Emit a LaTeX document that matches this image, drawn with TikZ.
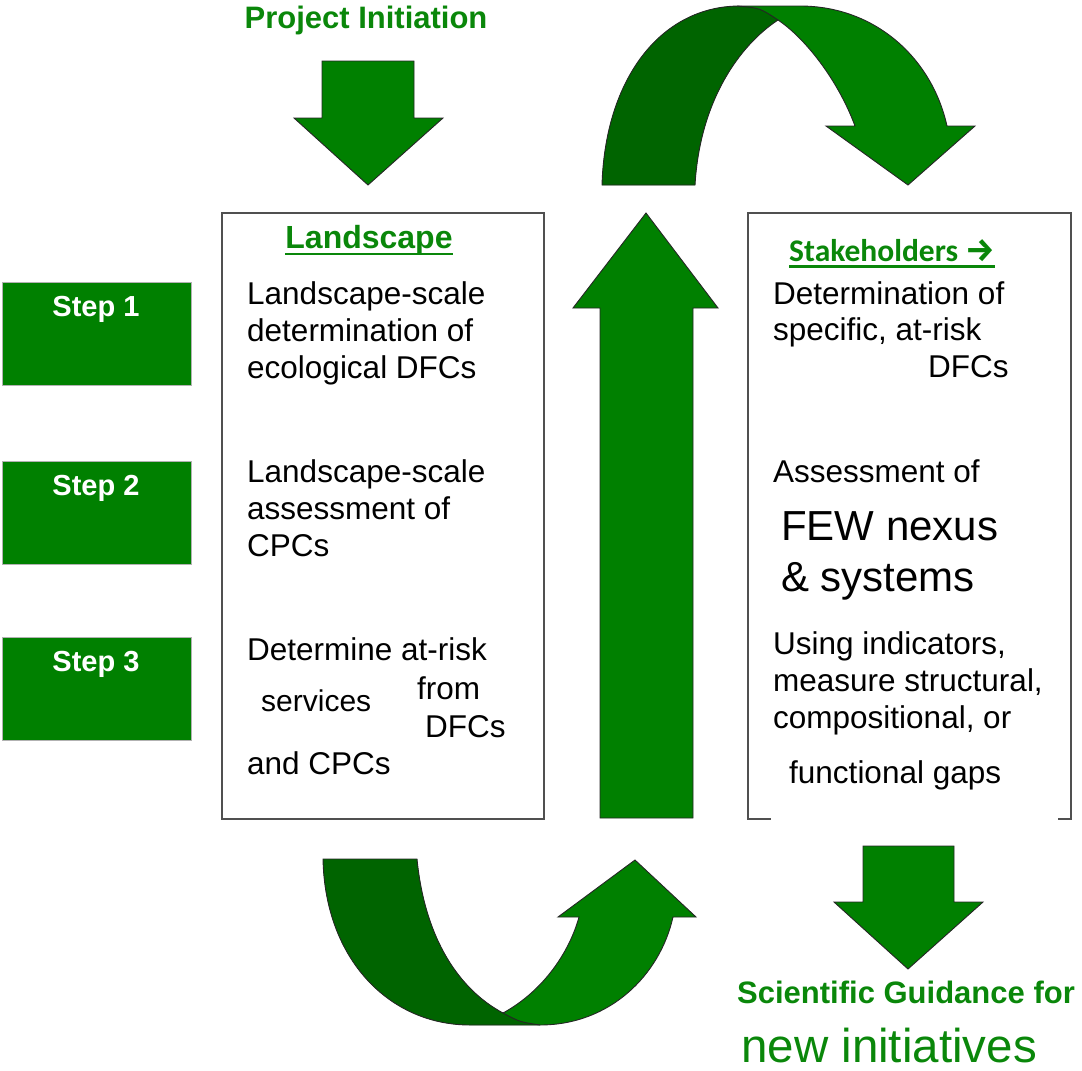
\documentclass[tikz,border=0pt]{standalone}
\usepackage{fontspec}
\setmainfont{Liberation Sans}
\newfontfamily\carlito{Carlito}
\newfontfamily\firab{Fira Sans}
\usetikzlibrary{calc}
\definecolor{gfill}{HTML}{008000}
\definecolor{gdark}{HTML}{006400}
\definecolor{gtext}{HTML}{0A870A}
\definecolor{edgec}{HTML}{505050}
\begin{document}
\begin{tikzpicture}[x=1pt,y=-1pt,
  body/.style={font=\fontsize{31.5}{37}\selectfont, inner sep=0pt, anchor=base west, text=black},
  bigbody/.style={font=\fontsize{42}{48}\selectfont, inner sep=0pt, anchor=base west, text=black},
  textbox/.style={draw=edgec, line width=1.5pt, fill=white, anchor=north west, inner sep=0pt},
  stepbox/.style={fill=gfill, draw=gray!60, line width=0.8pt, anchor=north west, inner sep=0pt, minimum width=189, minimum height=103},
  steplbl/.style={font=\fontsize{29}{32}\selectfont\bfseries, text=white, inner sep=0pt, anchor=base},
  greenhead/.style={font=\fontsize{31}{36}\selectfont\bfseries, text=gtext, inner sep=0pt},
  outline/.style={draw=black!85, line width=0.9pt, line join=miter},
  blockarrow/.style={fill=gfill, outline}
]
\useasboundingbox (0,0) rectangle (1082,1071);

% ---- ribbon paths
\def\toprib{(602,185) .. controls (605,80) and (660,6) .. (740,6) -- (800,6) .. controls (875,6) and (932,58) .. (947,126) -- (975,126) -- (908,185) -- (826,126) -- (855,126) .. controls (838,80) and (805,38) .. (778,20) .. controls (740,45) and (700,100) .. (695,185) -- cycle}
\def\botrib{(323,859) .. controls (325,960) and (390,1025) .. (470,1025) -- (540,1025) .. controls (610,1025) and (660,975) .. (673,917) -- (696,917) -- (635,860) -- (558,917) -- (579,917) .. controls (570,950) and (545,990) .. (503,1013) .. controls (460,990) and (425,940) .. (417,859) -- cycle}

% top curved arrow
\fill[gfill] \toprib;
\begin{scope}
  \clip (580,200) -- (580,-5) -- (737,-5) -- (737,6) .. controls (760,8) .. (778,20) -- (778,200) -- cycle;
  \fill[gdark] \toprib;
\end{scope}
\draw[outline] \toprib;
\draw[outline] (737,6) .. controls (760,8) .. (778,20);

% bottom curved arrow
\fill[gfill] \botrib;
\begin{scope}
  \clip (310,850) -- (310,1040) -- (540,1040) -- (540,1025) .. controls (520,1022) .. (503,1013) -- (503,850) -- cycle;
  \fill[gdark] \botrib;
\end{scope}
\draw[outline] \botrib;
\draw[outline] (503,1013) .. controls (520,1022) .. (540,1025);

% straight block arrows
\draw[blockarrow] (322,61) -- (414,61) -- (414,118) -- (443,118) -- (368,185) -- (294,118) -- (322,118) -- cycle;
\draw[blockarrow] (863,846) -- (954,846) -- (954,902) -- (983,902) -- (908,969) -- (834,902) -- (863,902) -- cycle;
\draw[blockarrow] (600,818) -- (600,308) -- (573,308) -- (646,213) -- (718,308) -- (693,308) -- (693,818) -- cycle;

% boxes
\node[textbox, minimum width=322, minimum height=606] (lbox) at (221,212) {};
\node[textbox, minimum width=323, minimum height=606] (rbox) at (747,212) {};
\fill[white] (771,814) rectangle (1058,822);

% step boxes
\node[stepbox] (s1) at (2,282) {};
\node[stepbox] (s2) at (2,461) {};
\node[stepbox] (s3) at (2,637) {};
\node[steplbl] (s1t) at (96,316) {Step 1};
\node[steplbl] (s2t) at (96,495) {Step 2};
\node[steplbl] (s3t) at (96,671) {Step 3};

% headings
\node[greenhead, anchor=base] (proj) at (366,28) {Project Initiation};
\node[greenhead, anchor=base, font=\fontsize{32}{36}\selectfont\bfseries] (lhead) at (369,248) {Landscape};
\draw[gtext, line width=2.6pt] ($(lhead.base west)+(0,6)$) -- ($(lhead.base east)+(0,6)$);
\node[inner sep=0pt, anchor=base west, text=gtext, font=\fontsize{31.5}{34}\selectfont\bfseries] (rhead) at (789,261) {\carlito Stakeholders {\fontsize{33}{34}\selectfont\firab\bfseries →}};
\draw[gtext, line width=2.2pt] ($(rhead.base west)+(0,5.5)$) -- ($(rhead.base east)+(0,5.5)$);

% left box text
\node[body] (l1a) at (247,304) {Landscape-scale};
\node[body] (l1b) at (247,341) {determination of};
\node[body] (l1c) at (247,378) {ecological DFCs};
\node[body] (l2a) at (247,482) {Landscape-scale};
\node[body] (l2b) at (247,519) {assessment of};
\node[body] (l2c) at (247,556) {CPCs};
\node[body] (l3a) at (247,660) {Determine at-risk};
\node[body, font=\fontsize{30}{36}\selectfont] (l3b) at (261,711) {services};
\node[body] (l3c) at (417,699) {from};
\node[body] (l3d) at (425,737) {DFCs};
\node[body] (l3e) at (247,774) {and CPCs};

% right box text
\node[body] (r1a) at (773,304) {Determination of};
\node[body] (r1b) at (773,340) {specific, at-risk};
\node[body] (r1c) at (928,377) {DFCs};
\node[body] (r2a) at (773,482) {Assessment of};
\node[bigbody] (r2b) at (781,540) {FEW nexus};
\node[bigbody] (r2c) at (781,591) {\& systems};
\node[body] (r3a) at (773,654) {Using indicators,};
\node[body] (r3b) at (773,691) {measure structural,};
\node[body] (r3c) at (773,728) {compositional, or};
\node[body] (r3d) at (789,783) {functional gaps};

% bottom text
\node[greenhead, anchor=base west] (sci) at (737,1003) {Scientific Guidance for};
\node[inner sep=0pt, anchor=base west, text=gtext, font=\fontsize{47.5}{52}\selectfont] (newi) at (741,1062) {new initiatives};
\end{tikzpicture}
\end{document}
